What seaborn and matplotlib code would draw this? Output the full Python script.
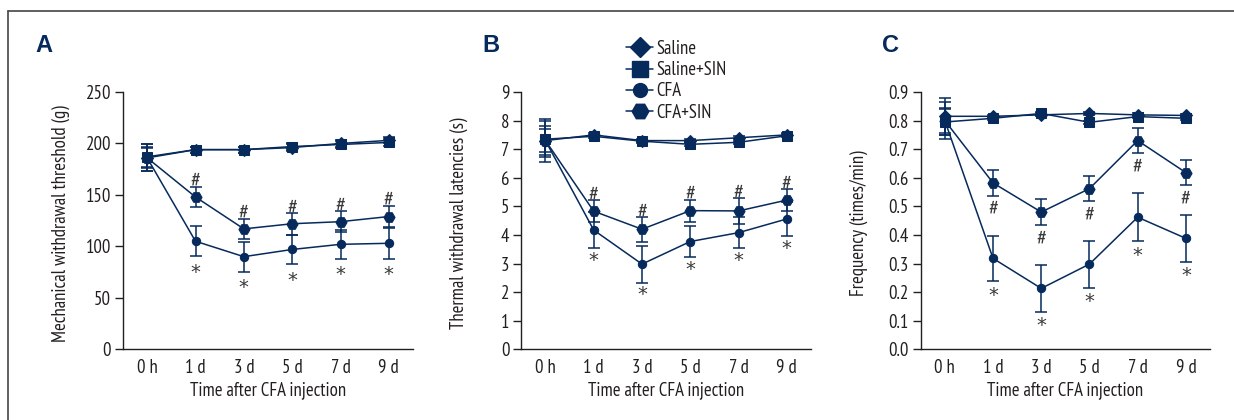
import numpy as np
import pandas as pd
import matplotlib
matplotlib.use("Agg")
import matplotlib.pyplot as plt
from matplotlib.lines import Line2D
from matplotlib.textpath import TextPath
from matplotlib.font_manager import FontProperties
import seaborn as sns

sns.set_style("white")
FONTS = ['PT Sans Narrow', 'Sofia Sans Condensed', 'Archivo Narrow', 'DejaVu Sans']
plt.rcParams['font.family'] = FONTS

# ---------------- data ----------------
times = ['0 h', '1 d', '3 d', '5 d', '7 d', '9 d']
groups = ['Saline', 'Saline+SIN', 'CFA', 'CFA+SIN']

# A: mechanical withdrawal threshold (g)
mech_saline = [186, 194, 194, 196, 200, 203]
mech_saline_sin = [187, 194, 194, 197, 199, 201]
mech_cfa = [186, 105, 90, 97, 102, 103]
mech_cfa_sin = [186, 148, 117, 122, 124, 129]
mech_saline_err = [13, 3, 3, 3, 3, 3]
mech_saline_sin_err = [10, 3, 3, 3, 3, 3]
mech_cfa_err = [13, 14.5, 14.5, 14.5, 14, 15]
mech_cfa_sin_err = [10, 10, 10, 10.5, 10, 10.5]

# B: thermal withdrawal latencies (s)
therm_saline = [7.3, 7.5, 7.3, 7.3, 7.4, 7.5]
therm_saline_sin = [7.35, 7.45, 7.28, 7.17, 7.24, 7.47]
therm_cfa = [7.3, 4.17, 2.98, 3.77, 4.08, 4.56]
therm_cfa_sin = [7.3, 4.83, 4.2, 4.85, 4.84, 5.22]
therm_saline_err = [0.75, 0.05, 0.05, 0.05, 0.05, 0.05]
therm_saline_sin_err = [0.62, 0.05, 0.05, 0.05, 0.05, 0.05]
therm_cfa_err = [0.5, 0.63, 0.65, 0.55, 0.55, 0.6]
therm_cfa_sin_err = [0.4, 0.38, 0.43, 0.38, 0.44, 0.37]

# C: frequency (times/min)
freq_saline = [0.815, 0.815, 0.82, 0.825, 0.82, 0.818]
freq_saline_sin = [0.795, 0.808, 0.825, 0.794, 0.814, 0.808]
freq_cfa = [0.80, 0.318, 0.213, 0.298, 0.462, 0.388]
freq_cfa_sin = [0.80, 0.582, 0.48, 0.562, 0.73, 0.618]
freq_saline_err = [0.065, 0.005, 0.005, 0.005, 0.005, 0.005]
freq_saline_sin_err = [0.045, 0.005, 0.005, 0.005, 0.005, 0.005]
freq_cfa_err = [0.065, 0.08, 0.082, 0.082, 0.084, 0.082]
freq_cfa_sin_err = [0.045, 0.045, 0.045, 0.045, 0.043, 0.045]

panel_labels = ['A', 'B', 'C']
ylabels = ['Mechanical withdrawal threshold (g)',
           'Thermal withdrawal latencies (s)',
           'Frequency (times/min)']
xlabel = 'Time after CFA injection'
yticks_list = [[0, 50, 100, 150, 200, 250],
               [0, 1, 2, 3, 4, 5, 6, 7, 8, 9],
               [0.0, 0.1, 0.2, 0.3, 0.4, 0.5, 0.6, 0.7, 0.8, 0.9]]
ytick_fmt = ['{:.0f}', '{:.0f}', '{:.1f}']
# significance marks: (symbol, group, side)
sig_marks = [
    [('#', 'CFA+SIN', 'above'), ('*', 'CFA', 'below')],
    [('#', 'CFA+SIN', 'above'), ('*', 'CFA', 'below')],
    [('#', 'CFA+SIN', 'below'), ('*', 'CFA', 'below')],
]

panels = [
    ([mech_saline, mech_saline_sin, mech_cfa, mech_cfa_sin],
     [mech_saline_err, mech_saline_sin_err, mech_cfa_err, mech_cfa_sin_err]),
    ([therm_saline, therm_saline_sin, therm_cfa, therm_cfa_sin],
     [therm_saline_err, therm_saline_sin_err, therm_cfa_err, therm_cfa_sin_err]),
    ([freq_saline, freq_saline_sin, freq_cfa, freq_cfa_sin],
     [freq_saline_err, freq_saline_sin_err, freq_cfa_err, freq_cfa_sin_err]),
]

# ---------------- style ----------------
NAVY = '#062a5b'
AX = '#231f20'
MARK = '#3a3a3a'
markers = {'Saline': 'D', 'Saline+SIN': 's', 'CFA': 'o', 'CFA+SIN': 'H'}
msizes = {'Saline': 6, 'Saline+SIN': 7, 'CFA': 6, 'CFA+SIN': 8}
FS = 13.5
PX = 0.72  # points per pixel at 100 dpi

# glyph metrics for the significance symbols (in units of font size)
sym_family = {'#': FONTS, '*': ['DejaVu Sans']}
glyph = {}
target_h = {'#': 13 * PX, '*': 9 * PX}
for s in ['#', '*']:
    fp = FontProperties(family=sym_family[s])
    ext = TextPath((0, 0), s, size=1, prop=fp).get_extents()
    fs = target_h[s] / max(ext.height, 1e-3)
    glyph[s] = (fs, ext.y0 * fs, ext.y1 * fs)
# gap between whisker cap and symbol, in pixels
gaps = [{('#', 'above'): 1, ('*', 'below'): 7},
        {('#', 'above'): 1, ('*', 'below'): 3},
        {('#', 'below'): 5, ('*', 'below'): 5}]

W, H = 1234, 420
fig = plt.figure(figsize=(W / 100, H / 100), dpi=100)

ax_px = [(123, 413), (521.3, 811), (920.7, 1210)]
top_px, bot_px = 92, 349.3
letter_px = [35, 482, 882]

xpos = np.arange(len(times))

for i, (vals, errs) in enumerate(panels):
    l, r = ax_px[i]
    ax = fig.add_axes([l / W, 1 - bot_px / H, (r - l) / W, (bot_px - top_px) / H])
    rows = []
    for g, v in zip(groups, vals):
        for x, y in zip(xpos, v):
            rows.append({'x': x, 'y': y, 'group': g})
    df = pd.DataFrame(rows)
    # error bars
    for g, v, e in zip(groups, vals, errs):
        ax.errorbar(xpos, v, yerr=e, fmt='none', ecolor=NAVY, elinewidth=1.1,
                    capsize=4.5, capthick=1.1, zorder=2)
    for g in groups:
        sub = df[df['group'] == g]
        sns.lineplot(data=sub, x='x', y='y', ax=ax, color=NAVY, marker=markers[g],
                     markersize=msizes[g], markeredgecolor=NAVY, linewidth=1.1,
                     estimator=None, errorbar=None, legend=False, zorder=3)
    # significance symbols
    for sym, g, side in sig_marks[i]:
        gi = groups.index(g)
        fs, y0, y1 = glyph[sym]
        gap = gaps[i][(sym, side)] * PX
        for k in range(1, len(times)):
            if side == 'above':
                yy = vals[gi][k] + errs[gi][k]
                off = gap - y0
            else:
                yy = vals[gi][k] - errs[gi][k]
                off = -gap - y1
            ax.annotate(sym, (xpos[k], yy), xytext=(0, off), textcoords='offset points',
                        ha='center', va='baseline', fontsize=fs, color=MARK,
                        family=sym_family[sym])
    # axes styling
    yt = yticks_list[i]
    ax.set_xlim(-0.5, len(times) - 0.5)
    ax.set_ylim(yt[0], yt[-1])
    ax.set_yticks(yt)
    ax.set_yticklabels([ytick_fmt[i].format(t) for t in yt])
    ax.set_xticks(np.arange(len(times)) + 0.5)
    ax.set_xticklabels([])
    ax.set_xticks(xpos, minor=True)
    ax.set_xticklabels(times, minor=True)
    ax.tick_params(axis='x', which='major', direction='out', length=5.5, width=1.0, color=AX)
    ax.tick_params(axis='x', which='minor', length=0, pad=7, labelsize=FS, labelcolor=AX)
    ax.tick_params(axis='y', direction='out', length=5.5, width=1.0, color=AX, pad=3,
                   labelsize=FS, labelcolor=AX, left=True)
    for s in ['top', 'right']:
        ax.spines[s].set_visible(False)
    for s in ['left', 'bottom']:
        ax.spines[s].set_color(AX)
        ax.spines[s].set_linewidth(1.0)
    ax.set_xlabel(xlabel, fontsize=FS, color=AX)
    ax.set_ylabel(ylabels[i], fontsize=FS, color=AX)
    ax.xaxis.set_label_coords(0.5, -0.125)
    ax.yaxis.set_label_coords(-53 / (r - l), 0.49)
    ax.patch.set_visible(False)
    fig.text(letter_px[i] / W, 1 - 45 / H, panel_labels[i], ha='left', va='center',
             fontsize=17, fontweight='bold', color=NAVY,
             family=['Liberation Sans', 'DejaVu Sans'])

# legend
handles = [Line2D([], [], color=NAVY, marker=markers[g], markersize=msizes[g] + 4,
                  linewidth=1.1, markeredgecolor=NAVY) for g in groups]
fig.legend(handles, groups, loc='upper left', bbox_to_anchor=(626 / W, 1 - 40 / H),
           frameon=False, fontsize=FS, handlelength=1.45, handletextpad=0.15,
           labelspacing=0.17, borderpad=0, borderaxespad=0, labelcolor=AX)

# figure frame (top and left lines)
fig.add_artist(Line2D([8 / W, 8 / W], [0, 1 - 11 / H], transform=fig.transFigure,
                      color='#444444', linewidth=1.2))
fig.add_artist(Line2D([8 / W, 1], [1 - 11 / H, 1 - 11 / H], transform=fig.transFigure,
                      color='#444444', linewidth=1.2))

fig.savefig('out.png', dpi=100, facecolor='white')
